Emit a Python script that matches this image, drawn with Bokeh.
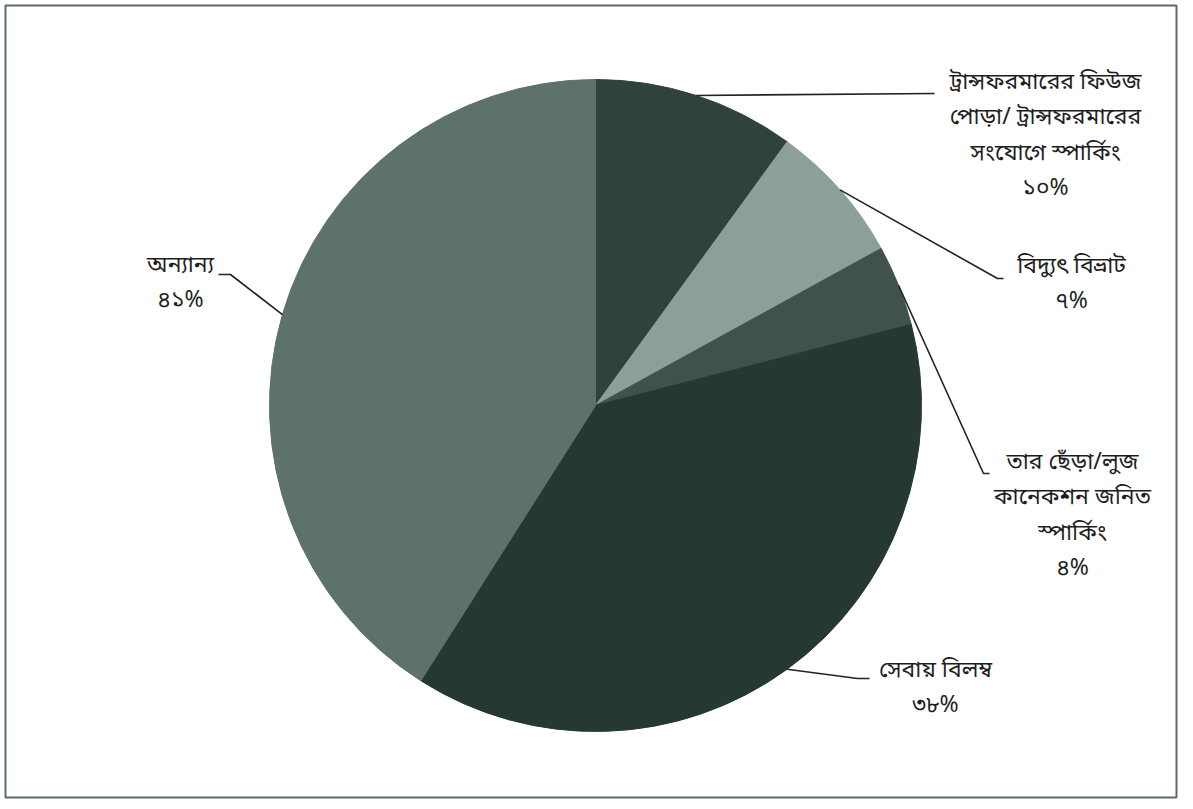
import math
from bokeh.plotting import figure
from bokeh.models import ColumnDataSource, Range1d
from bokeh.core.properties import value
from bokeh.embed import file_html
from bokeh.resources import INLINE

# ---- data ----
categories = [
    "ট্রান্সফরমারের ফিউজ\nপোড়া/ ট্রান্সফরমারের\nসংযোগে স্পার্কিং",
    "বিদ্যুৎ বিভ্রাট",
    "তার ছেঁড়া/লুজ\nকানেকশন জনিত\nস্পার্কিং",
    "সেবায় বিলম্ব",
    "অন্যান্য",
]
values = [10, 7, 4, 38, 41]
pct_labels = ["১০%", "৭%", "৪%", "৩৮%", "৪১%"]
colors = ["#2f423e", "#8c9f9b", "#3f524e", "#263834", "#5d716d"]

# ---- layout (page pixel coordinates) ----
W, H = 1180, 800
OFF = 0
CX, CY, R = 595, 405, 326
# label block: centre x, first-line middle y
label_pos = [(1045, 82), (1071, 266), (1072, 462), (935, 670), (180, 265)]
# leader elbow and end points
leader_pts = [
    [(934, 93)],
    [(997, 278), (1003, 278)],
    [(983, 473), (989, 473)],
    [(857, 678), (869, 678)],
    [(230, 274), (218, 274)],
]
LINE_STEP = 35.5
FONT = value("'Noto Sans Bengali', 'Lohit Bengali', 'Noto Sans', sans-serif")


def dx(px):
    return px - OFF


def dy(py):
    return H - (py - OFF)


p = figure(width=W, height=H, output_backend="svg", toolbar_location=None,
           x_range=Range1d(0, W), y_range=Range1d(0, H), min_border=0)
p.axis.visible = False
p.grid.visible = False
p.outline_line_color = None
p.background_fill_color = "white"
p.border_fill_color = "white"

# frame
p.quad(left=dx(5), right=dx(1176), bottom=dy(797), top=dy(5), fill_color=None,
       line_color="#5c6a67", line_width=2)

total = float(sum(values))
starts, ends, mids = [], [], []
cum = 0.0
for v in values:
    a0 = math.pi / 2 - 2 * math.pi * cum / total
    cum += v
    a1 = math.pi / 2 - 2 * math.pi * cum / total
    starts.append(a0)
    ends.append(a1)
    mids.append((a0 + a1) / 2)

src = ColumnDataSource(dict(start=starts, end=ends, color=colors, cat=categories, val=values))
p.wedge(x=dx(CX), y=dy(CY), radius=R, start_angle="start", end_angle="end",
        direction="clock", fill_color="color", line_color="color", line_width=1, source=src)

# leader lines
for i, m in enumerate(mids):
    xs = [dx(CX) + R * math.cos(m)]
    ys = [dy(CY) + R * math.sin(m)]
    for (px, py) in leader_pts[i]:
        xs.append(dx(px))
        ys.append(dy(py))
    p.line(xs, ys, line_color="#222222", line_width=1.6)

# labels
tx, ty, tt = [], [], []
for i, cat in enumerate(categories):
    lines = cat.split("\n") + [pct_labels[i]]
    cxl, y0 = label_pos[i]
    for k, ln in enumerate(lines):
        tx.append(dx(cxl))
        ty.append(dy(y0 + k * LINE_STEP))
        tt.append(ln)
lsrc = ColumnDataSource(dict(x=tx, y=ty, t=tt))
p.text(x="x", y="y", text="t", source=lsrc, text_align="center", text_baseline="middle",
       text_font=FONT, text_font_size="23px", text_color="#1e1e1e")

open("out.html", "w").write(file_html(p, INLINE))
